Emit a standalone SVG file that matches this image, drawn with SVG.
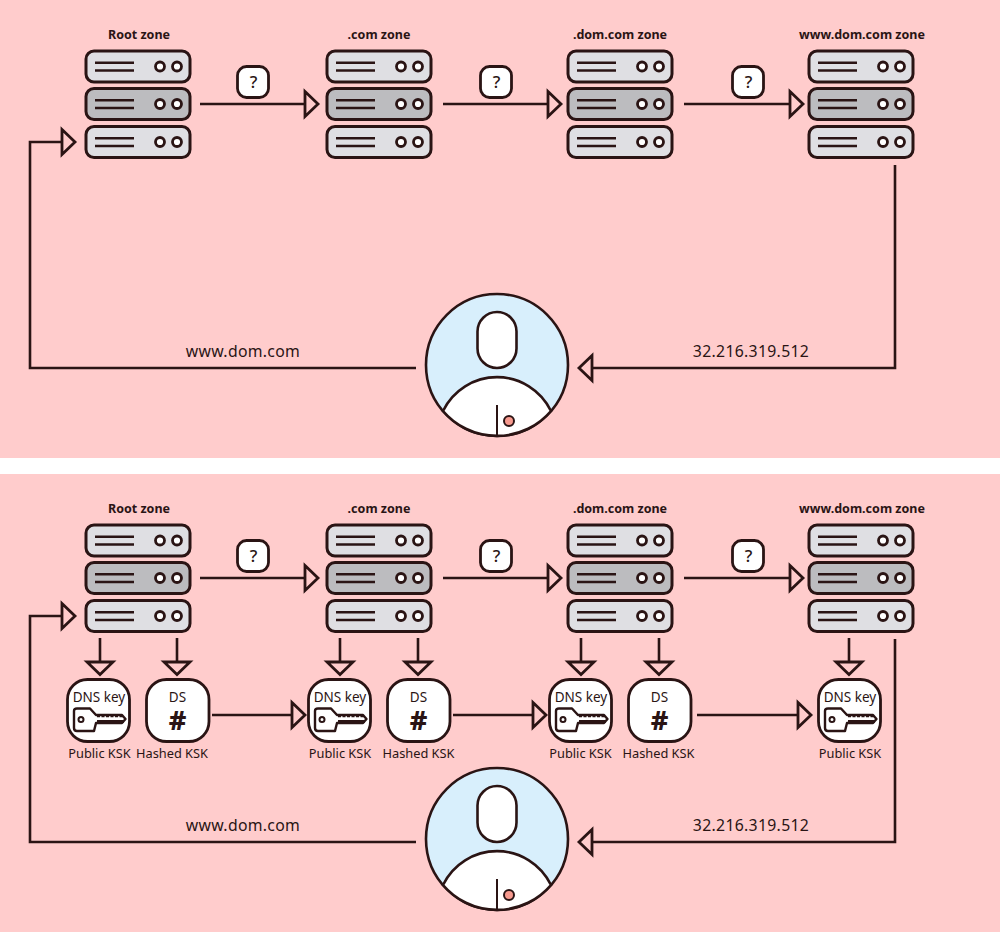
<svg xmlns="http://www.w3.org/2000/svg" width="1000" height="932" viewBox="0 0 1000 932">
<style>
text{font-family:"Noto Sans","Open Sans","Liberation Sans",sans-serif;fill:#2a1414;text-anchor:middle}
.z{font-size:12.500px;font-weight:700}
.l{font-size:15.800px;letter-spacing:.3px}
.s{font-size:12.800px}
.k{font-size:13.500px}
.c{fill:none;stroke:#2a1414;stroke-width:2.6}
.t{fill:#ffcccc;stroke:#2a1414;stroke-width:2.8;stroke-linejoin:miter}
.r{stroke:#2a1414;stroke-width:3;fill:#dfdfe3}
.d{fill:#bcbcbf}
.b{stroke:#2a1414;stroke-width:2.4;fill:none}
.o{fill:#fff;stroke:#2a1414;stroke-width:2.8}
</style>
<defs>
<g id="row"><line class="b" x1="95" y1="-3.700" x2="134" y2="-3.700"/><line class="b" x1="95" y1="4" x2="134" y2="4"/><circle class="o" cx="160" cy="0" r="4.500"/><circle class="o" cx="177" cy="0" r="4.500"/></g>
<g id="stack">
<rect class="r" x="86" y="51" width="104" height="31" rx="8"/><use href="#row" y="66.500"/>
<rect class="r d" x="86" y="88.500" width="104" height="31" rx="8"/><use href="#row" y="104"/>
<rect class="r" x="86" y="126.500" width="104" height="31" rx="8"/><use href="#row" y="142"/>
</g>
<g id="q"><rect x="237.500" y="66.500" width="31" height="31" rx="9" fill="#fff" stroke="#2a1414" stroke-width="2.800"/><text x="253.500" y="88" style="font-size:17px;font-weight:500">?</text></g>
<g id="user">
<circle cx="497" cy="365" r="71" fill="#d8effc" stroke="#2a1414" stroke-width="2.600"/>
<rect x="477.500" y="312" width="39" height="56" rx="19.500" fill="#fff" stroke="#2a1414" stroke-width="2.600"/>
<path d="M443 411A60 60 0 0 1 551 411A71 71 0 0 1 443 411Z" fill="#fff" stroke="#2a1414" stroke-width="2.600"/>
<line x1="497" y1="405" x2="497" y2="436" stroke="#2a1414" stroke-width="2"/>
<circle cx="509" cy="421" r="5" fill="#f79a8f" stroke="#2a1414" stroke-width="2"/>
</g>
<g id="key">
<rect x="67.500" y="679.500" width="62" height="62" rx="20" fill="#fff" stroke="#2a1414" stroke-width="2.800"/>
<text class="k" x="99" y="702">DNS key</text>
<path d="M74 711Q74 708.500 77 708.500H90L96 715H122L125.500 719L122 723H96L94 731H77Q74 731 74 728Z" fill="#fff" stroke="#2a1414" stroke-width="2.400" stroke-linejoin="round"/>
<circle cx="81" cy="719.500" r="2.500" fill="#fff" stroke="#2a1414" stroke-width="2"/>
<path d="M97 716H123" stroke="#2a1414" stroke-width="2.500" stroke-dasharray="3 1.500"/>
<path d="M97 721.500H124" stroke="#2a1414" stroke-width="3"/>
</g>
<g id="ds">
<rect x="146.500" y="679.500" width="62.500" height="62" rx="20" fill="#fff" stroke="#2a1414" stroke-width="2.800"/>
<text class="k" x="177.500" y="702">DS</text>
<text x="177.500" y="730" style="font-size:27px;font-weight:800">#</text>
</g>
<polygon id="ar" class="t" points="0,-12.500 13,0 0,12.500"/>
<polygon id="al" class="t" points="0,-12.500 -13,0 0,12.500"/>
<polygon id="ad" class="t" points="-13,0 13,0 0,12.500"/>
</defs>
<rect width="1000" height="932" fill="#ffcccc"/>
<rect y="458" width="1000" height="16" fill="#fff"/>

<g id="connectors">
<path class="c" d="M200 104H305M443 104H548M684 104H790"/>
<path class="c" d="M416 368H30V142H62M895 165V368H592"/>
<path class="c" d="M200 578H305M443 578H548M684 578H790"/>
<path class="c" d="M416 842H30V616H62M895 639V842H592"/>
<path class="c" d="M100 638V662M177 638V662M340 638V662M418 638V662M581 638V662M659 638V662M849 638V662"/>
<path class="c" d="M212 715H292M453 715H533M697 715H798"/>
<use href="#ar" x="305" y="104"/><use href="#ar" x="548" y="104"/><use href="#ar" x="790" y="104"/>
<use href="#ar" x="62" y="142"/><use href="#al" x="592" y="368"/>
<use href="#ar" x="305" y="578"/><use href="#ar" x="548" y="578"/><use href="#ar" x="790" y="578"/>
<use href="#ar" x="62" y="616"/><use href="#al" x="592" y="842"/>
<use href="#ad" x="100" y="662"/><use href="#ad" x="177" y="662"/><use href="#ad" x="340" y="662"/><use href="#ad" x="418" y="662"/><use href="#ad" x="581" y="662"/><use href="#ad" x="659" y="662"/><use href="#ad" x="849" y="662"/>
<use href="#ar" x="292" y="715"/><use href="#ar" x="533" y="715"/><use href="#ar" x="798" y="715"/>
</g>

<g id="top-root"><text class="z" x="139" y="38.500">Root zone</text><use href="#stack"/></g>
<g id="top-com"><text class="z" x="379" y="38.500">.com zone</text><use href="#stack" x="241"/></g>
<g id="top-dom"><text class="z" x="620" y="38.500">.dom.com zone</text><use href="#stack" x="482"/></g>
<g id="top-www"><text class="z" x="862" y="38.500">www.dom.com zone</text><use href="#stack" x="723"/></g>
<g id="top-q1"><use href="#q"/></g>
<g id="top-q2"><use href="#q" x="243"/></g>
<g id="top-q3"><use href="#q" x="495"/></g>
<g id="top-user"><use href="#user"/></g>
<text class="l" x="243" y="357">www.dom.com</text>
<text class="l" x="751" y="357">32.216.319.512</text>

<g id="bot-root"><text class="z" x="139" y="512.500">Root zone</text><use href="#stack" y="474"/></g>
<g id="bot-com"><text class="z" x="379" y="512.500">.com zone</text><use href="#stack" x="241" y="474"/></g>
<g id="bot-dom"><text class="z" x="620" y="512.500">.dom.com zone</text><use href="#stack" x="482" y="474"/></g>
<g id="bot-www"><text class="z" x="862" y="512.500">www.dom.com zone</text><use href="#stack" x="723" y="474"/></g>
<g id="bot-q1"><use href="#q" y="474"/></g>
<g id="bot-q2"><use href="#q" x="243" y="474"/></g>
<g id="bot-q3"><use href="#q" x="495" y="474"/></g>
<g id="bot-user"><use href="#user" y="474"/></g>
<text class="l" x="243" y="831">www.dom.com</text>
<text class="l" x="751" y="831">32.216.319.512</text>

<g id="key1"><use href="#key"/><text class="s" x="99.500" y="758">Public KSK</text></g>
<g id="ds1"><use href="#ds"/><text class="s" x="172" y="758">Hashed KSK</text></g>
<g id="key2"><use href="#key" x="241"/><text class="s" x="340" y="758">Public KSK</text></g>
<g id="ds2"><use href="#ds" x="241"/><text class="s" x="418.500" y="758">Hashed KSK</text></g>
<g id="key3"><use href="#key" x="482"/><text class="s" x="580.500" y="758">Public KSK</text></g>
<g id="ds3"><use href="#ds" x="482"/><text class="s" x="658.500" y="758">Hashed KSK</text></g>
<g id="key4"><use href="#key" x="751"/><text class="s" x="850" y="758">Public KSK</text></g>
</svg>
